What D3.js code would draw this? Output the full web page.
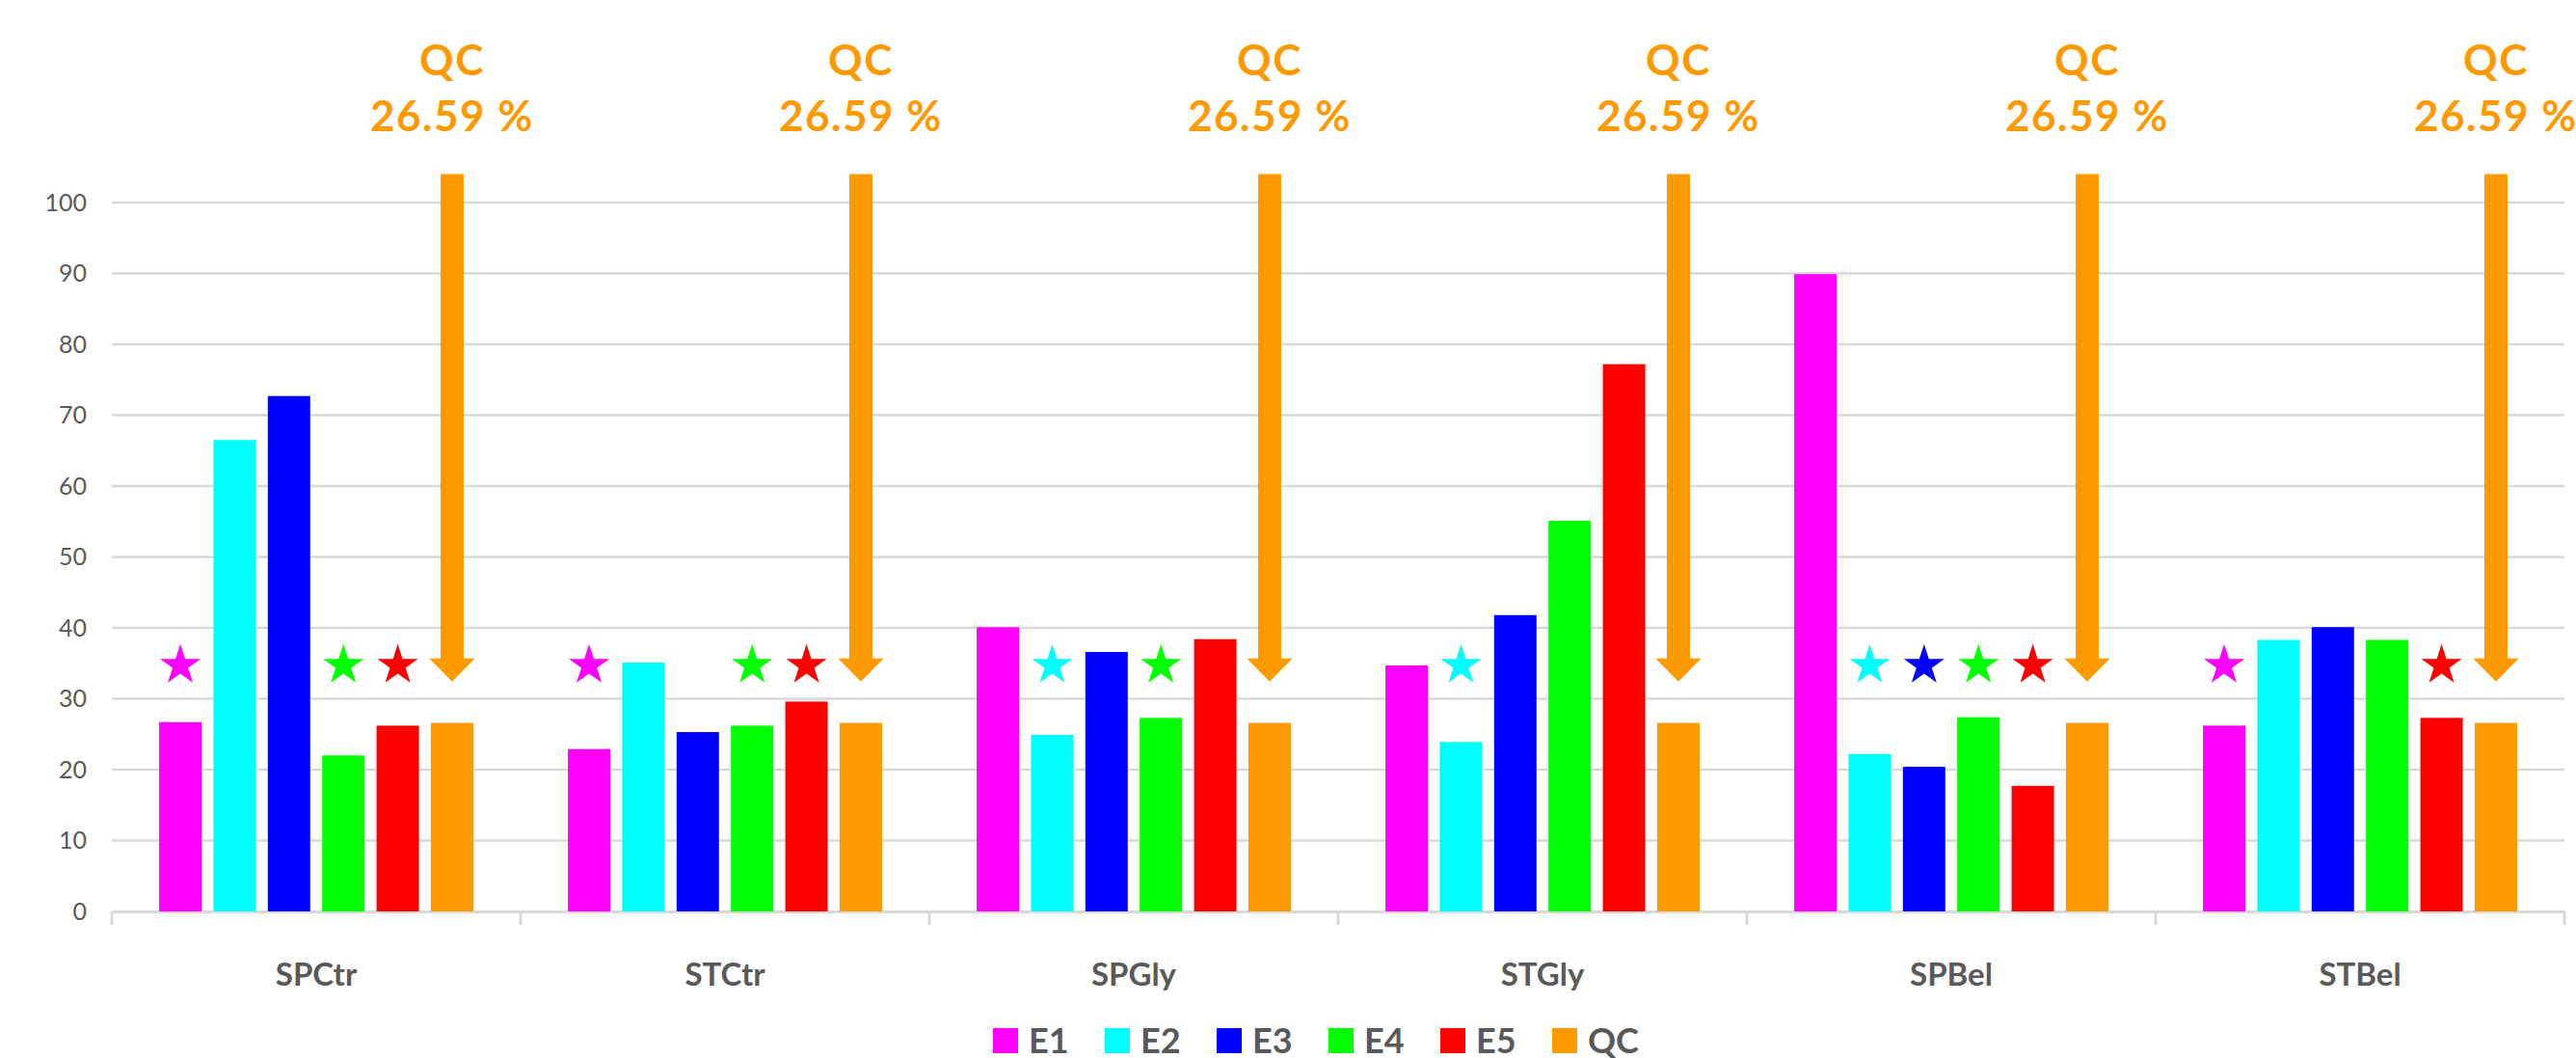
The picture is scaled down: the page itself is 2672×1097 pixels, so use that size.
<!DOCTYPE html>
<html>
<head>
<meta charset="utf-8">
<script src="https://cdn.jsdelivr.net/npm/d3@7"></script>
<style>
  html, body { margin: 0; padding: 0; background: #fff; overflow: hidden; }
  svg { display: block; font-family: Lato, "Open Sans", sans-serif; }
</style>
</head>
<body>
<svg id="chart" width="2672" height="1097"></svg>
<script>
// categories and series
const categories = ['SPCtr', 'STCtr', 'SPGly', 'STGly', 'SPBel', 'STBel'];
const seriesNames = ['E1', 'E2', 'E3', 'E4', 'E5', 'QC'];
const seriesColors = ['#ff00ff', '#00ffff', '#0000ff', '#00ff00', '#ff0000', '#ff9900'];

// one value per category for each series
const valuesE1 = [26.7, 22.9, 40.1, 34.7, 89.9, 26.2];
const valuesE2 = [66.5, 35.1, 24.9, 23.9, 22.2, 38.3];
const valuesE3 = [72.7, 25.3, 36.6, 41.8, 20.4, 40.1];
const valuesE4 = [22.0, 26.2, 27.3, 55.1, 27.4, 38.3];
const valuesE5 = [26.2, 29.6, 38.4, 77.2, 17.7, 27.3];
const valuesQC = [26.59, 26.59, 26.59, 26.59, 26.59, 26.59];

// stars drawn above these bars
const starredSeries = [
  ['E1', 'E4', 'E5'],
  ['E1', 'E4', 'E5'],
  ['E2', 'E4'],
  ['E2'],
  ['E2', 'E3', 'E4', 'E5'],
  ['E1', 'E5']
];
const starLevel = 34.7;

// QC reference arrow and label
const qcArrowFrom = 104;
const qcArrowTo = 32.4;
const qcTitle = 'QC';
const qcLabel = '26.59 %';

const yTicks = [0, 10, 20, 30, 40, 50, 60, 70, 80, 90, 100];

const allValues = [valuesE1, valuesE2, valuesE3, valuesE4, valuesE5, valuesQC];

const svg = d3.select('#chart');
const textColor = '#595959';
const gridColor = '#d9d9d9';

const x0 = d3.scaleBand().domain(categories).range([116, 2660]).padding(0);
const x1 = d3.scaleBand().domain(seriesNames).range([0, x0.bandwidth()])
  .paddingInner(0.22).paddingOuter(0.87);
const y = d3.scaleLinear().domain([0, 100]).range([945, 210]);

// gridlines
svg.append('g')
  .selectAll('line')
  .data(yTicks.filter(d => d > 0))
  .join('line')
  .attr('x1', 116).attr('x2', 2660)
  .attr('y1', d => y(d)).attr('y2', d => y(d))
  .attr('stroke', gridColor).attr('stroke-width', 2.5);

// y axis labels
const yAxis = svg.append('g')
  .attr('transform', 'translate(90,0)')
  .call(d3.axisLeft(y).tickValues(yTicks).tickSize(0).tickPadding(0));
yAxis.select('.domain').remove();
yAxis.selectAll('text')
  .attr('fill', textColor)
  .style('font-family', 'Lato, sans-serif')
  .style('font-size', '25px');

// x axis line, boundary ticks and labels
const xAxis = svg.append('g')
  .attr('transform', 'translate(0,' + y(0) + ')')
  .call(d3.axisBottom(x0).tickSize(0).tickPadding(54));
xAxis.select('.domain').attr('stroke', gridColor).attr('stroke-width', 3);
xAxis.selectAll('text')
  .attr('fill', textColor)
  .style('font-family', 'Lato, sans-serif')
  .style('font-size', '33px')
  .style('font-weight', 700);

const bounds = categories.map(c => x0(c)).concat([x0.range()[1]]);
svg.append('g')
  .selectAll('line')
  .data(bounds)
  .join('line')
  .attr('x1', d => d).attr('x2', d => d)
  .attr('y1', y(0)).attr('y2', y(0) + 14)
  .attr('stroke', gridColor).attr('stroke-width', 3);

// bars
const groups = svg.append('g')
  .selectAll('g')
  .data(categories)
  .join('g')
  .attr('transform', c => 'translate(' + x0(c) + ',0)');

groups.selectAll('rect')
  .data((c, ci) => seriesNames.map((s, si) => ({ s, si, v: allValues[si][ci] })))
  .join('rect')
  .attr('x', d => x1(d.s))
  .attr('width', x1.bandwidth())
  .attr('y', d => y(d.v))
  .attr('height', d => y(0) - y(d.v))
  .attr('fill', d => seriesColors[d.si]);

// stars
const star = d3.symbol().type(d3.symbolStar).size(548);
groups.selectAll('path.star')
  .data((c, ci) => starredSeries[ci])
  .join('path')
  .attr('class', 'star')
  .attr('d', star)
  .attr('transform', s => 'translate(' + (x1(s) + x1.bandwidth() / 2) + ',' + y(starLevel) + ')')
  .attr('fill', s => seriesColors[seriesNames.indexOf(s)]);

// QC arrows and labels
const qcColor = seriesColors[5];
const cx = x1('QC') + x1.bandwidth() / 2;
const shaftHalf = 12;
const headHalf = 23.5;
const headLen = 24;
groups.append('path')
  .attr('d', () => {
    const top = y(qcArrowFrom), tip = y(qcArrowTo), base = tip - headLen;
    return 'M' + (cx - shaftHalf) + ',' + top +
      'L' + (cx + shaftHalf) + ',' + top +
      'L' + (cx + shaftHalf) + ',' + base +
      'L' + (cx + headHalf) + ',' + base +
      'L' + cx + ',' + tip +
      'L' + (cx - headHalf) + ',' + base +
      'L' + (cx - shaftHalf) + ',' + base + 'Z';
  })
  .attr('fill', qcColor);

groups.append('text')
  .attr('x', cx).attr('y', 78)
  .attr('text-anchor', 'middle')
  .attr('fill', qcColor)
  .style('font-size', '44px').style('font-weight', 700)
  .style('letter-spacing', '1.5px')
  .text(qcTitle);
groups.append('text')
  .attr('x', cx).attr('y', 136)
  .attr('text-anchor', 'middle')
  .attr('fill', qcColor)
  .style('font-size', '44px').style('font-weight', 700)
  .style('letter-spacing', '1.5px')
  .text(qcLabel);

// legend
const legend = svg.append('g')
  .selectAll('g')
  .data(seriesNames)
  .join('g')
  .attr('transform', (d, i) => 'translate(' + (1030 + i * 116) + ',1066)');
legend.append('rect')
  .attr('width', 26).attr('height', 26)
  .attr('fill', (d, i) => seriesColors[i]);
legend.append('text')
  .attr('x', 37).attr('y', 26)
  .attr('fill', textColor)
  .style('font-size', '36px').style('font-weight', 700)
  .text(d => d);
</script>
</body>
</html>
